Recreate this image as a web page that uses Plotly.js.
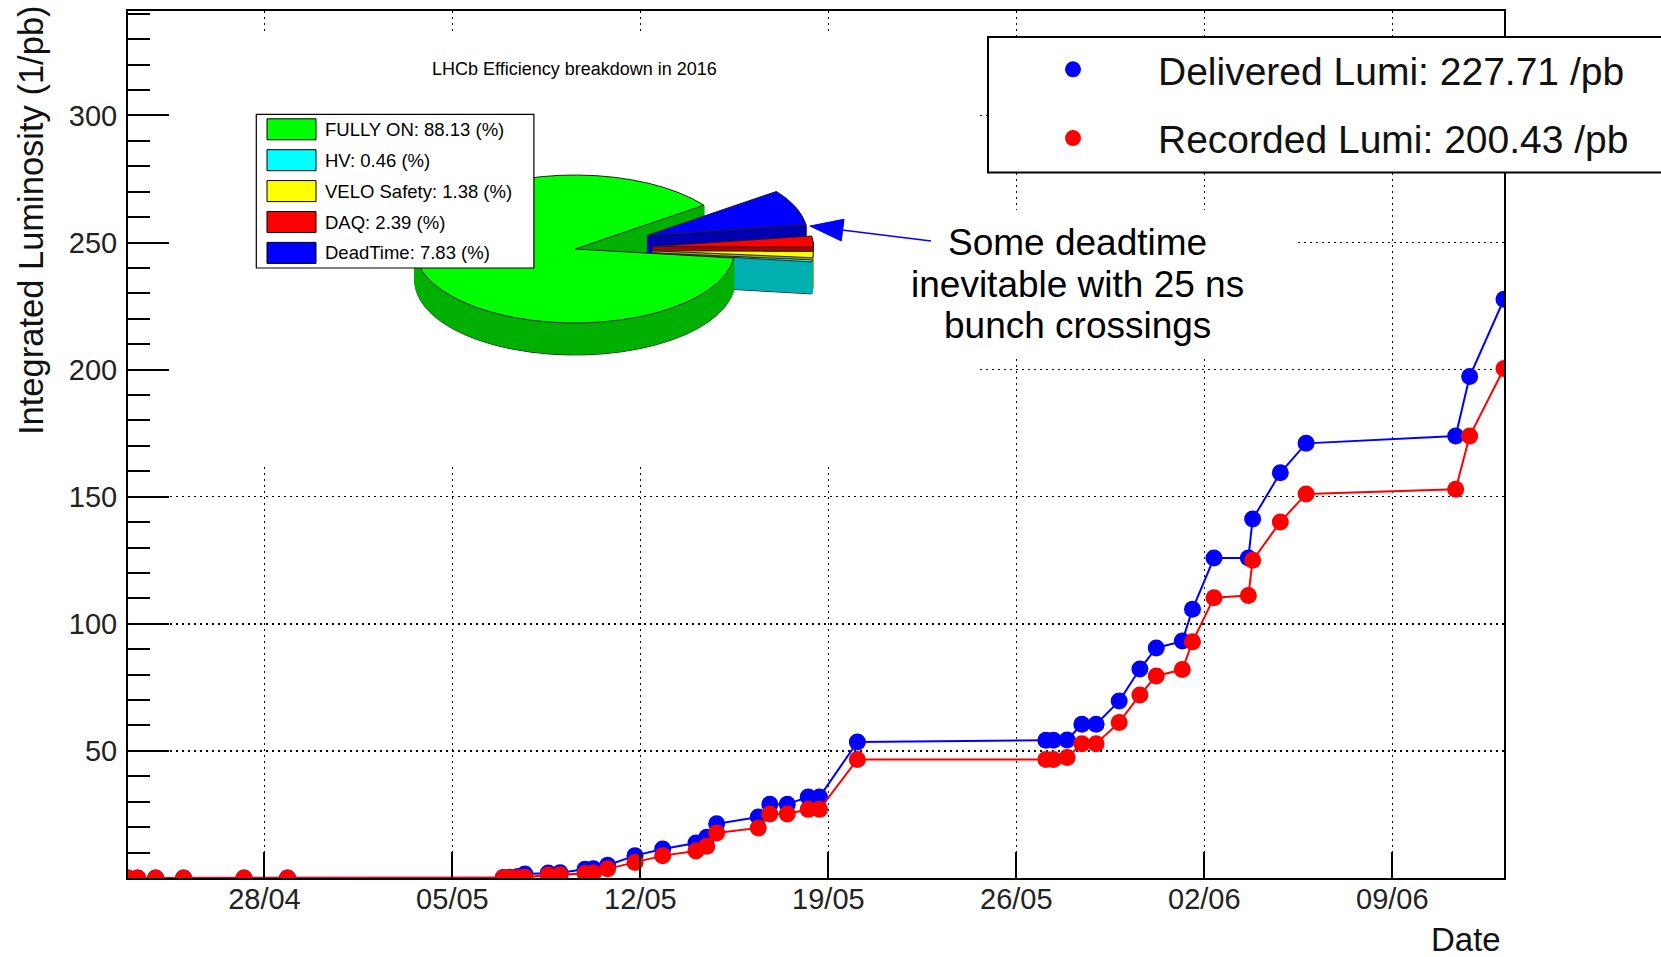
<!DOCTYPE html>
<html><head><meta charset="utf-8">
<script src="https://cdn.plot.ly/plotly-3.0.1.min.js"></script>
<style>html,body{margin:0;padding:0;background:#fff;} #chart{width:1661px;height:957px;}</style>
</head><body><div id="chart"></div>
<script>
// ---------------- data ----------------
const dates = [
 '2016-04-22 22:05','2016-04-23 06:43','2016-04-23 22:48','2016-04-24 23:46','2016-04-27 05:46','2016-04-28 20:38',
 '2016-05-06 21:22','2016-05-07 03:22','2016-05-07 10:48','2016-05-07 16:48','2016-05-08 13:41','2016-05-09 00:14',
 '2016-05-09 22:34','2016-05-10 06:00','2016-05-10 18:43','2016-05-11 19:12','2016-05-12 19:55','2016-05-14 01:41',
 '2016-05-14 11:17','2016-05-14 20:10','2016-05-16 09:22','2016-05-16 19:41','2016-05-17 11:17','2016-05-18 06:00',
 '2016-05-18 16:05','2016-05-20 01:55','2016-05-27 02:24','2016-05-27 09:07','2016-05-27 21:22','2016-05-28 10:34',
 '2016-05-28 23:17','2016-05-29 19:55','2016-05-30 14:24','2016-05-31 05:02','2016-06-01 04:19','2016-06-01 13:26',
 '2016-06-02 08:38','2016-06-03 15:22','2016-06-03 19:12','2016-06-04 19:55','2016-06-05 18:58','2016-06-11 08:38',
 '2016-06-11 21:07','2016-06-13 03:50'
];
const delivered = [
 0,0,0,0,0,0,
 0.2,0.3,0.6,1.6,2.0,2.1,
 3.4,3.6,5.0,8.8,11.4,13.8,
 16.0,21.3,24.0,29.0,29.0,31.9,
 31.9,53.5,54.2,54.2,54.3,60.5,
 60.5,69.6,82.2,90.5,93.2,105.7,
 125.9,125.9,141.2,159.4,171.0,173.9,
 197.3,227.71
];
const recorded = [
 0,0,0,0,0,0,
 0,0.05,0.1,0.3,1.2,1.3,
 1.8,2.0,3.6,6.1,8.8,10.6,
 12.5,17.7,19.7,25.2,25.2,27.0,
 27.0,46.6,46.6,46.6,47.4,52.8,
 52.8,61.2,72.0,79.5,82.0,92.9,
 110.3,111.1,125.0,140.1,151.1,152.9,
 173.9,200.43
];
const pieLabels = ['FULLY ON','HV','VELO Safety','DAQ','DeadTime'];
const pieValues = [88.13, 0.46, 1.38, 2.39, 7.83];
const yTickValues = [50,100,150,200,250,300];
const xTickStart = '2016-04-28';
const deliveredName = 'Delivered Lumi: ' + delivered[delivered.length-1].toFixed(2) + ' /pb';
const recordedName  = 'Recorded Lumi: ' + recorded[recorded.length-1].toFixed(2) + ' /pb';

// ---------------- styles / geometry ----------------
const FONT = 'Liberation Sans, Arial, Helvetica, sans-serif';
const W=1661, H=957, L=128, R=157, T=11, B=79;
const PW = W-L-R, PH = H-T-B;
const Y_MAX = 341.1;
const pieColors = ['#00ff00','#00ffff','#ffff00','#ff0000','#0000ff'];
const pieSideColors = ['#00b000','#00b0b0','#b0b000','#b00000','#0000b0'];
const piePull = [0,0.49,0.49,0.49,0.49];
const PIE = {cx:575, cy:249, a:160, b:74, depth:32, step:1};

function parseDate(s){ const m=s.match(/(\d+)-(\d+)-(\d+)(?: (\d+):(\d+))?/); return Date.UTC(+m[1],+m[2]-1,+m[3],+(m[4]||0),+(m[5]||0)); }
const t0 = parseDate(dates[0]), tN = parseDate(dates[dates.length-1]);
function pad2(n){ return String(n).padStart(2,'0'); }
function fmt(ms){ const d=new Date(ms); return d.getUTCFullYear()+'-'+pad2(d.getUTCMonth()+1)+'-'+pad2(d.getUTCDate())+' '+pad2(d.getUTCHours())+':'+pad2(d.getUTCMinutes())+':'+pad2(d.getUTCSeconds()); }
function pxToX(px){ return fmt(t0 + (px-L)/PW*(tN-t0)); }
function pxToY(py){ return (T+PH-py)/PH*Y_MAX; }
function paperX(px){ return (px-L)/PW; }
function paperY(py){ return (T+PH-py)/PH; }

// ---------------- traces ----------------
const data = [
 {type:'scatter', mode:'lines', x:dates, y:delivered, line:{color:'#0000ff', width:2}, showlegend:false, legendgroup:'del', hoverinfo:'skip'},
 {type:'scatter', mode:'markers', x:dates, y:delivered, marker:{color:'#0000ff', size:17}, name:deliveredName, legendgroup:'del'},
 {type:'scatter', mode:'lines', x:dates, y:recorded, line:{color:'#ff0000', width:2}, showlegend:false, legendgroup:'rec', hoverinfo:'skip'},
 {type:'scatter', mode:'markers', x:dates, y:recorded, marker:{color:'#ff0000', size:17}, name:recordedName, legendgroup:'rec'}
];
const pieOffsets = [];
for(let d=PIE.depth; d>0; d-=PIE.step) pieOffsets.push(d);
pieOffsets.push(0);
pieOffsets.forEach((off, i) => {
  const top = off === 0, bottom = i === 0;
  let line;
  if(top || bottom) line = {color:'#222', width:1};
  else line = {color:pieSideColors, width:1.5};
  data.push({
    type:'pie', labels:pieLabels, values:pieValues, sort:false, direction:'counterclockwise', rotation:97,
    pull:piePull, textinfo:'none', hoverinfo:'skip', showlegend:false,
    domain:{x:[0.15,0.5], y:[0.45,0.95]},
    marker:{colors: top ? pieColors : pieSideColors, line:line}
  });
});

// ---------------- shapes & annotations ----------------
const shapes = [
 {type:'rect', xref:'x', yref:'y', layer:'between', x0:pxToX(131), x1:pxToX(980), y0:pxToY(465), y1:pxToY(33), fillcolor:'#fff', line:{width:0}},
 {type:'rect', xref:'x', yref:'y', layer:'between', x0:pxToX(980), x1:pxToX(1297), y0:pxToY(357), y1:pxToY(210), fillcolor:'#fff', line:{width:0}},
 // main legend frame (runs past the right edge as in the reference)
 {type:'rect', xref:'paper', yref:'paper', layer:'above', x0:paperX(988), x1:paperX(1680), y0:paperY(172.6), y1:paperY(37), fillcolor:'#fff', line:{color:'#000', width:2}},
 // pie legend frame
 {type:'rect', xref:'paper', yref:'paper', layer:'above', x0:paperX(256.3), x1:paperX(533.9), y0:paperY(268), y1:paperY(114.4), fillcolor:'#fff', line:{color:'#000', width:1.2}},
 // arrow
 {type:'line', xref:'paper', yref:'paper', layer:'above', x0:paperX(842), y0:paperY(230), x1:paperX(931), y1:paperY(241), line:{color:'#0000ff', width:1.5}},
 {type:'path', xref:'paper', yref:'paper', layer:'above', path:`M${paperX(810)},${paperY(226)} L${paperX(844)},${paperY(219.2)} L${paperX(841.3)},${paperY(241)} Z`, fillcolor:'#0000ff', line:{color:'#0000ff', width:1}}
];
const legendRowY = [129.3, 160.2, 191.1, 222, 252.9];
const annotations = [
 {xref:'paper', yref:'paper', x:paperX(31), y:paperY(3), xanchor:'center', yanchor:'top', textangle:-90, showarrow:false, text:'Integrated Luminosity (1/pb)', font:{size:34.5, color:'#111'}},
 {xref:'paper', yref:'paper', x:paperX(1503), y:paperY(939), xanchor:'right', yanchor:'middle', showarrow:false, text:'Date', font:{size:33, color:'#111'}},
 {xref:'paper', yref:'paper', x:paperX(574), y:paperY(69), xanchor:'center', yanchor:'middle', showarrow:false, text:'LHCb Efficiency breakdown in 2016', font:{size:18, color:'#000'}},
 {xref:'paper', yref:'paper', x:paperX(1077), y:paperY(242.5), xanchor:'center', yanchor:'middle', showarrow:false, text:'Some deadtime', font:{size:37, color:'#000'}},
 {xref:'paper', yref:'paper', x:paperX(1077), y:paperY(284), xanchor:'center', yanchor:'middle', showarrow:false, text:'inevitable with 25 ns', font:{size:37, color:'#000'}},
 {xref:'paper', yref:'paper', x:paperX(1077), y:paperY(325.5), xanchor:'center', yanchor:'middle', showarrow:false, text:'bunch crossings', font:{size:37, color:'#000'}}
];
pieLabels.forEach((lab, i) => {
  shapes.push({type:'rect', xref:'paper', yref:'paper', layer:'above', x0:paperX(267), x1:paperX(316), y0:paperY(legendRowY[i]+10.5), y1:paperY(legendRowY[i]-10.5), fillcolor:pieColors[i], line:{color:'#000', width:1}});
  annotations.push({xref:'paper', yref:'paper', x:paperX(322.5), y:paperY(legendRowY[i]), xanchor:'left', yanchor:'middle', showarrow:false, text: lab + ': ' + pieValues[i].toFixed(2) + ' (%)', font:{size:18.5, color:'#000'}});
});

const layout = {
  width:W, height:H, margin:{l:L, r:R, t:T, b:B, autoexpand:false},
  paper_bgcolor:'#fff', plot_bgcolor:'#fff', font:{family:FONT, color:'#111'},
  showlegend:true,
  legend:{x:paperX(988), y:paperY(37.5), xanchor:'left', yanchor:'top', bgcolor:'rgba(0,0,0,0)', borderwidth:0,
          font:{size:39, color:'#111'}, itemwidth:160, tracegroupgap:15, traceorder:'grouped'},
  xaxis:{type:'date', range:[dates[0], dates[dates.length-1]], tick0:xTickStart, dtick:7*86400000, tickformat:'%d/%m',
         ticks:'inside', ticklen:26, tickwidth:2, tickcolor:'#000', showline:true, linecolor:'#000', linewidth:2, mirror:true,
         showgrid:true, gridcolor:'#000', gridwidth:1.5, griddash:'2px,4px', zeroline:false, ticklabelstandoff:-6,
         tickfont:{size:29, color:'#222'}},
  yaxis:{range:[0, Y_MAX], tickmode:'array', tickvals:yTickValues, ticks:'inside', ticklen:41, tickwidth:2, tickcolor:'#000',
         minor:{tickmode:'linear', tick0:0, dtick:10, ticks:'inside', ticklen:22, tickwidth:2, tickcolor:'#000', showgrid:false},
         showline:true, linecolor:'#000', linewidth:2, mirror:true, ticklabelstandoff:3,
         showgrid:true, gridcolor:'#000', gridwidth:1.5, griddash:'2px,4px', zeroline:false,
         tickfont:{size:29, color:'#222'}},
  shapes:shapes, annotations:annotations
};

Plotly.newPlot('chart', data, layout, {displayModeBar:false, staticPlot:true}).then(gd => {
  const groups = gd.querySelectorAll('.pielayer g.trace');
  const pieCd = gd.calcdata.filter(cd => cd[0] && cd[0].trace && cd[0].trace.type === 'pie');
  groups.forEach((g, i) => {
    const cd0 = pieCd[i][0];
    const off = pieOffsets[i];
    g.setAttribute('transform', `translate(${PIE.cx},${PIE.cy+off}) scale(${PIE.a/cd0.r},${PIE.b/cd0.r}) translate(${-cd0.cx},${-cd0.cy})`);
    g.querySelectorAll('path').forEach(p => { p.style.vectorEffect = 'non-scaling-stroke'; });
  });
});
</script>
</body></html>
